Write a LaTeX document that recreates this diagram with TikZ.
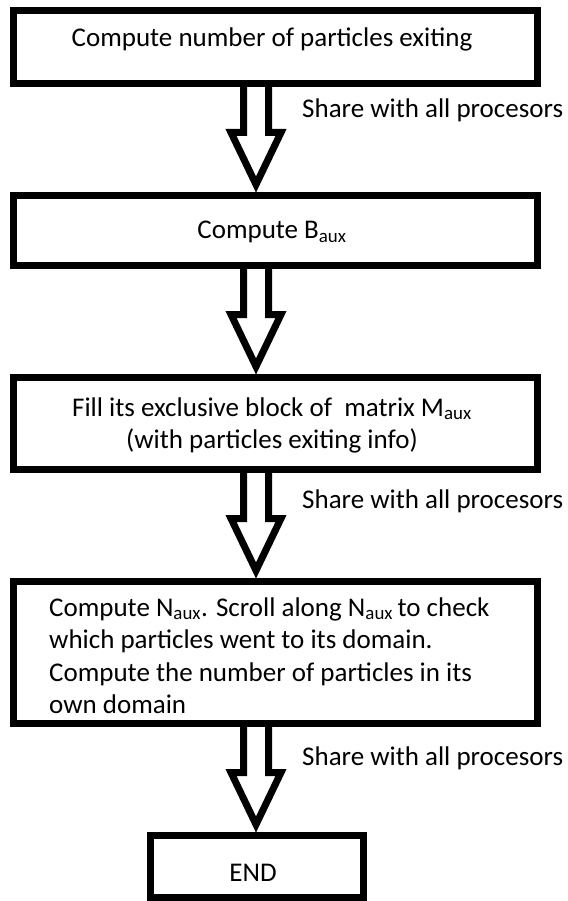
\documentclass[tikz,border=0pt]{standalone}
\usepackage{fontspec}
\setmainfont{Carlito}
\usetikzlibrary{calc}

% hollow block arrow from a point on the lower edge of one box to a tip
\newcommand\flowarrow[2]{%
  \draw[hollowarrow] ($(#1)+(-12.5,0)$) |- ($(#2)+(-25,-52)$) -- (#2)
    -- ($(#2)+(25,-52)$) -| ($(#1)+(12.5,0)$);}

\begin{document}
\begin{tikzpicture}[x=1pt,y=-1pt,
  box/.style={draw=black, line width=7pt, inner sep=0pt, fill=white},
  hollowarrow/.style={draw=black, line width=7pt, line join=miter},
  txt/.style={inner sep=0pt, font=\fontsize{27}{32.5}\selectfont, text=black},
  note/.style={txt, anchor=base west}]

\useasboundingbox (0,0) rectangle (567,901);
\fill[white] (0,0) rectangle (567,901);

% process boxes
\node[box, minimum width=524pt, minimum height=73pt]  (b1) at (275.5,47)    {};
\node[box, minimum width=524pt, minimum height=70pt]  (b2) at (275.5,230.5) {};
\node[box, minimum width=524pt, minimum height=92pt]  (b3) at (275.5,423.5) {};
\node[box, minimum width=524pt, minimum height=142pt] (b4) at (275.5,652.5) {};
\node[box, minimum width=213pt, minimum height=62pt]  (b5) at (257,866.5)   {};

% box texts (multi-line texts are placed by the baseline of their last line)
\node[txt, anchor=base] (t1) at (272,46.6) {Compute number of particles exiting};
\node[txt, anchor=base] (t2) at (272,238.6) {Compute B\textsubscript{aux}};
\node[txt, anchor=base, align=center] (t3) at (272,448.6)
  {Fill its exclusive block of\ \ matrix M\textsubscript{aux}\\(with particles exiting\ info)};
\node[txt, anchor=base west, align=left] (t4) at (49,713.6)
  {Compute N\textsubscript{aux}. Scroll along N\textsubscript{aux}\,to check\\
   which particles went to its domain.\\
   Compute the number of particles in its\\
   own domain};
\node[txt, anchor=base] (t5) at (253,881.6) {END};

% vertical line on which the arrows sit
\coordinate (ax) at (256,0);
\coordinate (s1) at (b1.south -| ax);
\coordinate (e1) at ($(b2.north -| ax)+(0,-7.5)$);
\coordinate (s2) at (b2.south -| ax);
\coordinate (e2) at ($(b3.north -| ax)+(0,-7.5)$);
\coordinate (s3) at (b3.south -| ax);
\coordinate (e3) at ($(b4.north -| ax)+(0,-7.5)$);
\coordinate (s4) at (b4.south -| ax);
\coordinate (e4) at ($(b5.north -| ax)+(0,-7.5)$);

\flowarrow{s1}{e1}
\flowarrow{s2}{e2}
\flowarrow{s3}{e3}
\flowarrow{s4}{e4}

% arrow labels
\node[note] (l1) at (302,117.6) {Share with all procesors};
\node[note] (l3) at (302,508.6) {Share with all procesors};
\node[note] (l4) at (302,765.6) {Share with all procesors};
\end{tikzpicture}
\end{document}
